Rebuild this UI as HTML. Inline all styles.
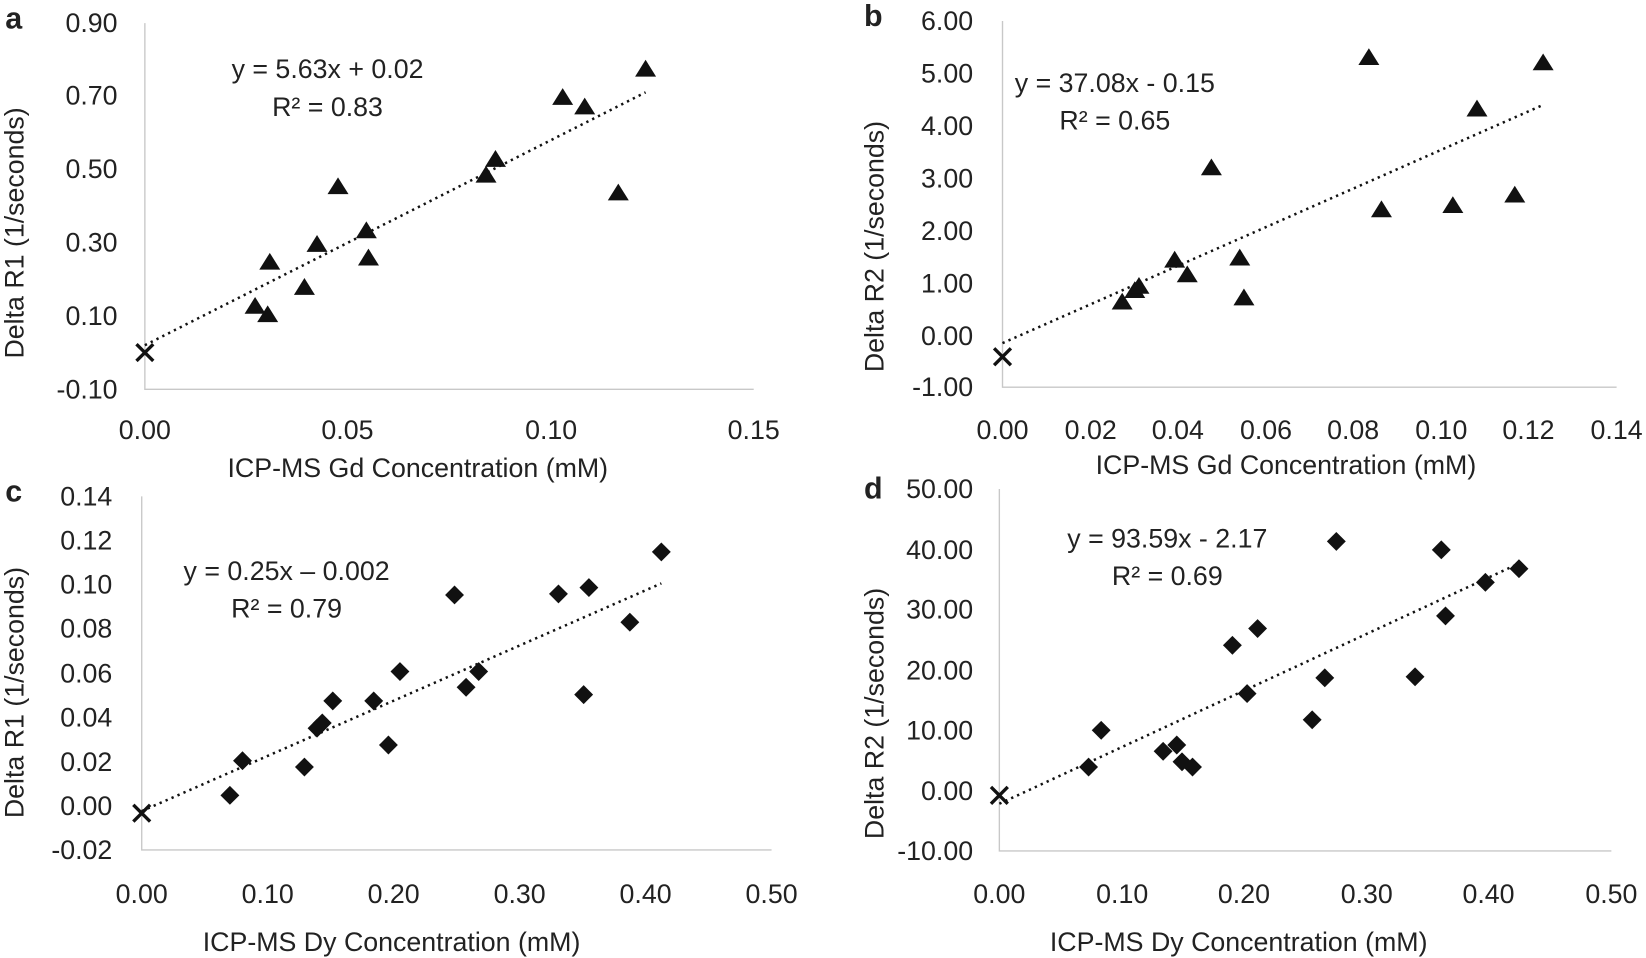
<!DOCTYPE html>
<html><head><meta charset="utf-8"><style>
html,body{margin:0;padding:0;background:#fff;}
svg{display:block;}
text{font-family:"Liberation Sans",sans-serif;fill:#222;font-size:25.5px;}
.yl{text-anchor:end;dominant-baseline:central;font-size:26px;}
.xl{text-anchor:middle;dominant-baseline:central;}
.tk{font-size:26px;}
.ax{stroke:#c8c8c8;stroke-width:1.3;fill:none;}
.tr{stroke:#111;stroke-width:2.4;stroke-dasharray:2.2 4;fill:none;}
.lab{font-weight:bold;font-size:29px;}
</style></head><body>
<svg width="1646" height="958" viewBox="0 0 1568 913" preserveAspectRatio="none">
<defs>
<path id="t" d="M0,-9 L10,7 L-10,7 Z" fill="#111"/>
<path id="d" d="M0,-9 L9,0 L0,9 L-9,0 Z" fill="#111"/>
<path id="x" d="M-8,-8 L8,8 M8,-8 L-8,8" stroke="#111" stroke-width="3.2"/>
</defs>
<!-- Panel a -->
<text class="lab" x="5" y="27">a</text>
<path class="ax" d="M138,22 V371 H718"/>
<g class="yl"><text x="112" y="22">0.90</text><text x="112" y="91">0.70</text><text x="112" y="161">0.50</text><text x="112" y="231">0.30</text><text x="112" y="301">0.10</text><text x="112" y="371">-0.10</text></g>
<g class="xl tk"><text x="138" y="410">0.00</text><text x="331" y="410">0.05</text><text x="525" y="410">0.10</text><text x="718" y="410">0.15</text></g>
<text class="xl" x="398" y="446">ICP-MS Gd Concentration (mM)</text>
<text class="xl" transform="translate(14,222) rotate(-90)">Delta R1 (1/seconds)</text>
<text class="xl" x="312" y="66">y = 5.63x + 0.02</text>
<text class="xl" x="312" y="102">R² = 0.83</text>
<path class="tr" d="M138,329 L615,88"/>
<g><use href="#t" x="243" y="292"/><use href="#t" x="255" y="300"/><use href="#t" x="257" y="250"/><use href="#t" x="290" y="274"/><use href="#t" x="302" y="233"/><use href="#t" x="349" y="220"/><use href="#t" x="351" y="246"/><use href="#t" x="322" y="178"/><use href="#t" x="463" y="167"/><use href="#t" x="472" y="152"/><use href="#t" x="536" y="93"/><use href="#t" x="557" y="102"/><use href="#t" x="589" y="184"/><use href="#t" x="615" y="66"/><use href="#x" x="138" y="336"/></g>
<!-- Panel b -->
<text class="lab" x="823" y="25">b</text>
<path class="ax" d="M955,20 V369 H1540"/>
<g class="yl"><text x="927" y="20">6.00</text><text x="927" y="70">5.00</text><text x="927" y="120">4.00</text><text x="927" y="170">3.00</text><text x="927" y="220">2.00</text><text x="927" y="270">1.00</text><text x="927" y="320">0.00</text><text x="927" y="369">-1.00</text></g>
<g class="xl tk"><text x="955" y="410">0.00</text><text x="1039" y="410">0.02</text><text x="1122" y="410">0.04</text><text x="1206" y="410">0.06</text><text x="1289" y="410">0.08</text><text x="1373" y="410">0.10</text><text x="1456" y="410">0.12</text><text x="1540" y="410">0.14</text></g>
<text class="xl" x="1225" y="443">ICP-MS Gd Concentration (mM)</text>
<text class="xl" transform="translate(833,235) rotate(-90)">Delta R2 (1/seconds)</text>
<text class="xl" x="1062" y="79">y = 37.08x - 0.15</text>
<text class="xl" x="1062" y="115">R² = 0.65</text>
<path class="tr" d="M955,327 L1470,100"/>
<g><use href="#t" x="1069" y="288"/><use href="#t" x="1081" y="277"/><use href="#t" x="1085" y="273"/><use href="#t" x="1119" y="248"/><use href="#t" x="1131" y="262"/><use href="#t" x="1154" y="160"/><use href="#t" x="1181" y="246"/><use href="#t" x="1185" y="284"/><use href="#t" x="1304" y="55"/><use href="#t" x="1316" y="200"/><use href="#t" x="1384" y="196"/><use href="#t" x="1407" y="104"/><use href="#t" x="1443" y="186"/><use href="#t" x="1470" y="60"/><use href="#x" x="955" y="340"/></g>
<!-- Panel c -->
<text class="lab" x="5" y="478">c</text>
<path class="ax" d="M135,473 V810 H735"/>
<g class="yl"><text x="107" y="473">0.14</text><text x="107" y="515">0.12</text><text x="107" y="557">0.10</text><text x="107" y="599">0.08</text><text x="107" y="642">0.06</text><text x="107" y="684">0.04</text><text x="107" y="726">0.02</text><text x="107" y="768">0.00</text><text x="107" y="810">-0.02</text></g>
<g class="xl tk"><text x="135" y="852">0.00</text><text x="255" y="852">0.10</text><text x="375" y="852">0.20</text><text x="495" y="852">0.30</text><text x="615" y="852">0.40</text><text x="735" y="852">0.50</text></g>
<text class="xl" x="373" y="898">ICP-MS Dy Concentration (mM)</text>
<text class="xl" transform="translate(14,660) rotate(-90)">Delta R1 (1/seconds)</text>
<text class="xl" x="273" y="544">y = 0.25x – 0.002</text>
<text class="xl" x="273" y="580">R² = 0.79</text>
<path class="tr" d="M135,773 L630,556"/>
<g><use href="#d" x="219" y="758"/><use href="#d" x="231" y="725"/><use href="#d" x="290" y="731"/><use href="#d" x="302" y="694"/><use href="#d" x="307" y="689"/><use href="#d" x="317" y="668"/><use href="#d" x="356" y="668"/><use href="#d" x="370" y="710"/><use href="#d" x="381" y="640"/><use href="#d" x="433" y="567"/><use href="#d" x="444" y="655"/><use href="#d" x="456" y="640"/><use href="#d" x="532" y="566"/><use href="#d" x="556" y="662"/><use href="#d" x="561" y="560"/><use href="#d" x="600" y="593"/><use href="#d" x="630" y="526"/><use href="#x" x="135" y="775"/></g>
<!-- Panel d -->
<text class="lab" x="823" y="475">d</text>
<path class="ax" d="M952,466 V811 H1535"/>
<g class="yl"><text x="927" y="466">50.00</text><text x="927" y="524">40.00</text><text x="927" y="581">30.00</text><text x="927" y="639">20.00</text><text x="927" y="696">10.00</text><text x="927" y="754">0.00</text><text x="927" y="811">-10.00</text></g>
<g class="xl tk"><text x="952" y="852">0.00</text><text x="1069" y="852">0.10</text><text x="1185" y="852">0.20</text><text x="1302" y="852">0.30</text><text x="1418" y="852">0.40</text><text x="1535" y="852">0.50</text></g>
<text class="xl" x="1180" y="898">ICP-MS Dy Concentration (mM)</text>
<text class="xl" transform="translate(833,680) rotate(-90)">Delta R2 (1/seconds)</text>
<text class="xl" x="1112" y="513">y = 93.59x - 2.17</text>
<text class="xl" x="1112" y="549">R² = 0.69</text>
<path class="tr" d="M952,766 L1447,537"/>
<g><use href="#d" x="1037" y="731"/><use href="#d" x="1049" y="696"/><use href="#d" x="1108" y="716"/><use href="#d" x="1121" y="710"/><use href="#d" x="1126" y="726"/><use href="#d" x="1136" y="731"/><use href="#d" x="1174" y="615"/><use href="#d" x="1188" y="661"/><use href="#d" x="1198" y="599"/><use href="#d" x="1250" y="686"/><use href="#d" x="1262" y="646"/><use href="#d" x="1273" y="516"/><use href="#d" x="1348" y="645"/><use href="#d" x="1373" y="524"/><use href="#d" x="1377" y="587"/><use href="#d" x="1415" y="555"/><use href="#d" x="1447" y="542"/><use href="#x" x="952" y="758"/></g>
</svg>
</body></html>
